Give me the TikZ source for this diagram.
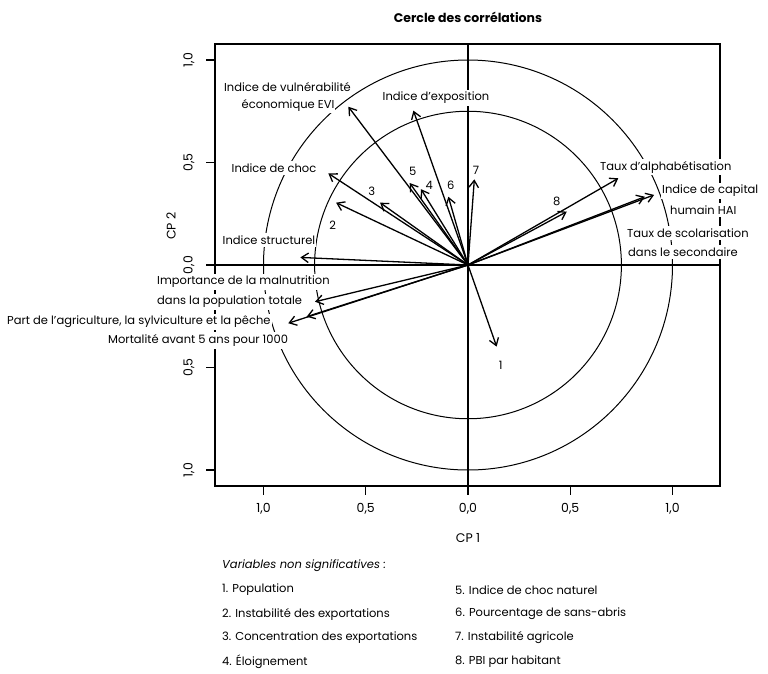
\documentclass[tikz,border=0pt]{standalone}
\usepackage{fontspec}
\setmainfont{Poppins}
\usetikzlibrary{arrows.meta}
\begin{document}
\begin{tikzpicture}[x=1pt,y=-1pt,
  lab/.style={fill=white, inner xsep=1pt, inner ysep=2.5pt, font=\fontsize{11.5}{18.5}\selectfont},
  num/.style={inner sep=0pt, font=\fontsize{11.5}{14}\selectfont},
  tick/.style={inner sep=0pt, font=\fontsize{12.5}{14}\selectfont},
  leg/.style={inner sep=0pt, anchor=west, font=\fontsize{11.5}{14}\selectfont},
  arr/.style={line width=1.3pt, -{Straight Barb[length=7pt,width=9.5pt]}},
  circ/.style={line width=1pt},
  ax/.style={line width=1.3pt}]
\useasboundingbox (0,0) rectangle (768,673);
% origin and data scope
\coordinate (O) at (468,265);
\begin{scope}[shift={(468,265)}, x=204.5pt, y=205pt]
  \coordinate (tevi) at (-0.585,0.772);
  \coordinate (texp) at (-0.267,0.753);
  \coordinate (tcho) at (-0.683,0.447);
  \coordinate (tstr) at (-0.82,0.037);
  \coordinate (tmal) at (-0.748,-0.179);
  \coordinate (tmor) at (-0.789,-0.252);
  \coordinate (tagr) at (-0.879,-0.284);
  \coordinate (talp) at (0.735,0.423);
  \coordinate (thai) at (0.91,0.342);
  \coordinate (tsco) at (0.865,0.333);
  \coordinate (t1) at (0.14,-0.398);
  \coordinate (t2) at (-0.645,0.304);
  \coordinate (t3) at (-0.43,0.304);
  \coordinate (t4) at (-0.23,0.37);
  \coordinate (t5) at (-0.285,0.40);
  \coordinate (t6) at (-0.096,0.333);
  \coordinate (t7) at (0.031,0.418);
  \coordinate (t8) at (0.483,0.26);
\end{scope}
% circles
\draw[circ] (O) circle [x radius=204.5pt, y radius=205pt];
\draw[circ] (O) circle [x radius=153.4pt, y radius=153.75pt];
% axes
\coordinate (axl) at (215,265); \coordinate (axr) at (720,265);
\coordinate (axt) at (468,44);  \coordinate (axb) at (468,486);
\draw[ax] (axl) -- (axr);
\draw[ax] (axt) -- (axb);
% box and ticks
\draw[line width=1.7pt] (215,44) rectangle (720,486);
\foreach \xx in {263.5,365.75,468,570.25,672.5} \draw[line width=1.4pt] (\xx,486) -- (\xx,495);
\foreach \yy in {60,162.5,265,367.5,470} \draw[line width=1.4pt] (215,\yy) -- (206,\yy);
% arrows
\foreach \t in {tevi,texp,tcho,tstr,tmal,tmor,tagr,talp,thai,tsco,t1,t2,t3,t4,t5,t6,t7,t8}
  \draw[arr] (O) -- (\t);
% labels with white masks
\node[lab] (levi) at (287.5,87) {Indice de vulnérabilité};
\node[lab] (levib) at (288,105) {économique EVI};
\node[lab] (lexp) at (436,98) {Indice d’exposition};
\node[lab] (lcho) at (274,168) {Indice de choc};
\node[lab] (lstr) at (269,240) {Indice structurel};
\node[lab, anchor=west] (lmal) at (156,282) {Importance de la malnutrition};
\node[lab, anchor=west] (lmalb) at (156,302) {dans la population totale};
\node[lab, anchor=west] (lagr) at (6,322) {Part de l'agriculture, la sylviculture et la pêche};
\node[lab, anchor=west] (lmor) at (107,340) {Mortalité avant 5 ans pour 1000};
\node[lab, anchor=west] (lalp) at (599,167) {Taux d’alphabétisation};
\node[lab, anchor=west] (lhai) at (661,191) {Indice de capital};
\node[lab, anchor=west] (lhaib) at (669,210) {humain HAI};
\node[lab, anchor=west] (lsco) at (626,233) {Taux de scolarisation};
\node[lab, anchor=west] (lscob) at (627,252) {dans le secondaire};
% numbers
\node[num] (n1) at (500.7,365) {1};
\node[num] (n2) at (332.7,225) {2};
\node[num] (n3) at (371.7,191.7) {3};
\node[num] (n4) at (429.3,185) {4};
\node[num] (n5) at (412.7,171.7) {5};
\node[num] (n6) at (450.7,185) {6};
\node[num] (n7) at (476,170) {7};
\node[num] (n8) at (556.7,201.7) {8};
% tick labels
\node[tick] (xa) at (263.5,509) {1,0};
\node[tick] (xb) at (365.75,509) {0,5};
\node[tick] (xc) at (468,509) {0,0};
\node[tick] (xd) at (570.25,509) {0,5};
\node[tick] (xe) at (672.5,509) {1,0};
\node[tick, rotate=90] (ya) at (189,60) {1,0};
\node[tick, rotate=90] (yb) at (189,162.5) {0,5};
\node[tick, rotate=90] (yc) at (189,265) {0,0};
\node[tick, rotate=90] (yd) at (189,367.5) {0,5};
\node[tick, rotate=90] (ye) at (189,470) {1,0};
\node[tick] (cp1) at (468,538) {CP 1};
\node[tick, rotate=90] (cp2) at (171,226) {CP 2};
% title
\node[inner sep=0pt, font=\bfseries\fontsize{12.5}{16}\selectfont] (title) at (468,17) {Cercle des corrélations};
% legend
\node[leg] (lg0) at (222,566) {\itshape Variables non significatives :};
\node[leg] (lg1) at (222,590) {1. Population};
\node[leg] (lg2) at (222,614) {2. Instabilité des exportations};
\node[leg] (lg3) at (222,638) {3. Concentration des exportations};
\node[leg] (lg4) at (222,662) {4. Éloignement};
\node[leg] (lg5) at (455,590) {5. Indice de choc naturel};
\node[leg] (lg6) at (455,614) {6. Pourcentage de sans-abris};
\node[leg] (lg7) at (455,638) {7. Instabilité agricole};
\node[leg] (lg8) at (455,662) {8. PBI par habitant};
\end{tikzpicture}
\end{document}
